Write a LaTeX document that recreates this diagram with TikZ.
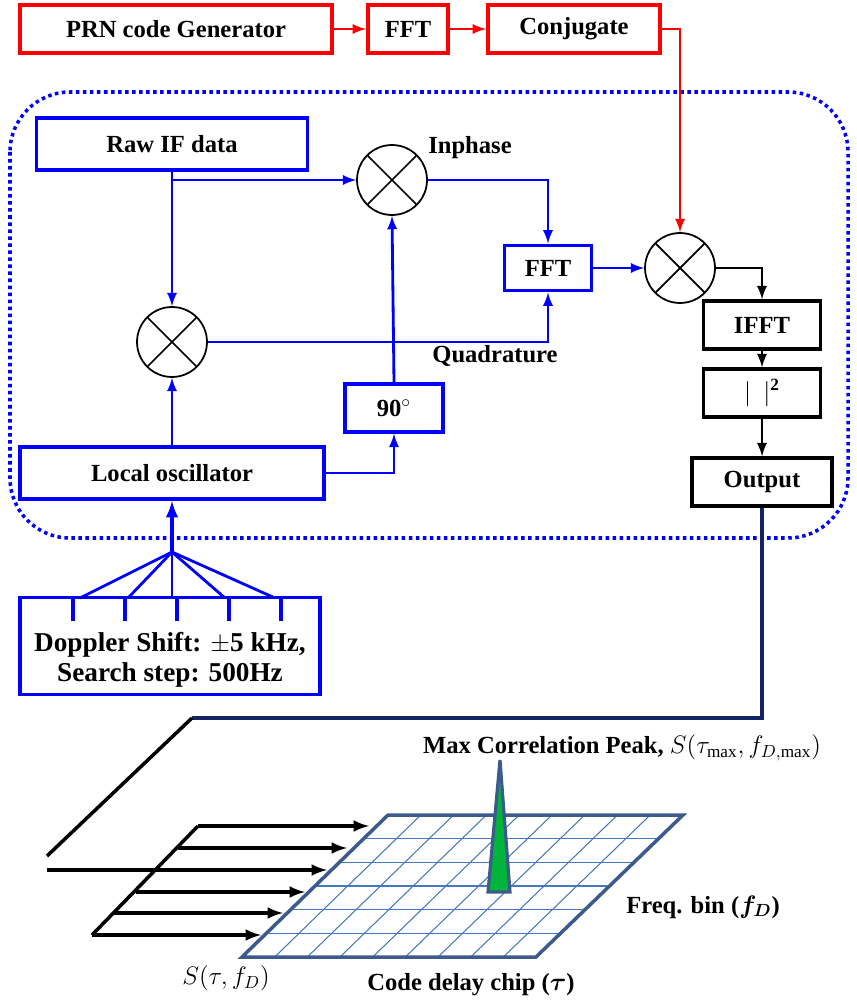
\documentclass[tikz,border=0pt]{standalone}
\usepackage{fontspec}
\setmainfont{Liberation Serif}
\usepackage{amsmath}
\usepackage{tikz}
\usetikzlibrary{arrows,calc}
\definecolor{navy}{RGB}{20,35,100}
\definecolor{gridblue}{RGB}{70,120,190}
\definecolor{edgeblue}{RGB}{60,90,140}
\definecolor{peakgreen}{RGB}{0,180,60}

\begin{document}
\begin{tikzpicture}[x=0.02cm,y=-0.02cm,>=latex,font=\fontsize{14}{16}\selectfont\bfseries]
    \tikzstyle{block}=[draw,line width=2.2pt,inner sep=0pt,minimum height=0.95cm]
    \tikzstyle{red block}=[block,draw=red]
    \tikzstyle{blue block}=[block,draw=blue]
    \tikzstyle{black block}=[block,draw=black]
    \tikzstyle{mixer}=[circle,draw,line width=1pt,minimum size=1.4cm,inner sep=0pt,
        path picture={\draw[line width=1pt] (path picture bounding box.north west)--(path picture bounding box.south east)
        (path picture bounding box.north east)--(path picture bounding box.south west);}]
    \tikzstyle{red line}=[draw=red,line width=1.6pt,->]
    \tikzstyle{blue line}=[draw=blue,line width=1.6pt,->]
    \tikzstyle{black line}=[draw=black,line width=1.6pt,->]
    \useasboundingbox (0,0) rectangle (857,1000);

    % Top chain
    \node[red block,minimum width=6.24cm] (prn) at (176,29) {PRN code Generator};
    \node[red block,minimum width=1.6cm] (fft0) at (408,29) {FFT};
    \node[red block,minimum width=3.44cm] (conj) at (574,29) {Conjugate};

    % Dotted frame
    \draw[blue,line width=2pt,dotted,rounded corners=1.2cm] (10,92) rectangle (848,538);

    % Blocks inside the frame
    \node[blue block,minimum width=5.42cm,minimum height=1.04cm] (raw) at (172,144) {Raw IF data};
    \node[mixer] (mixI) at (392,180) {};
    \node[mixer] (mixQ) at (172,342) {};
    \node[blue block,minimum width=1.74cm,minimum height=0.9cm] (fft1) at (548,268) {FFT};
    \node[blue block,minimum width=1.96cm] (shift) at (394,408) {90$^{\circ}$};
    \node[blue block,minimum width=6.08cm,minimum height=1.04cm] (lo) at (172,473) {Local oscillator};
    \node[mixer] (mixR) at (680,268) {};
    \node[black block,minimum width=2.34cm] (ifft) at (762,325) {IFFT};
    \node[black block,minimum width=2.34cm] (abs) at (762,393) {$|\ \ |^{\mathbf{2}}$};
    \node[black block,minimum width=2.8cm] (out) at (762,482) {Output};
    \node (inph) at (470,148) {Inphase};
    \node (quad) at (495,356) {Quadrature};

    % Doppler search box
    \node[blue block,minimum width=6cm,minimum height=1.94cm] (dop) at (170,646) {};
    \node[align=center,font=\fontsize{15.5}{17}\selectfont\bfseries] at (170,660) {Doppler Shift: $\pm$5 kHz,\\Search step: 500Hz};
    \coordinate (fan) at (172,552);
    \foreach \x/\t in {73/80,125/128,177/172,229/225,281/275} {
        \draw[blue,line width=2pt] (\x,598) -- (\x,621);
        \draw[blue,line width=1.6pt] (fan) -- (\t,598);
    }

    % Connections
    \draw[red line] (conj.east) -| (mixR.north);
    \draw[red line] (prn) -- (fft0);
    \draw[red line] (fft0) -- (conj);
    \coordinate (split) at (raw.south |- mixI.west);
    \draw[blue line] (raw.south) -- (mixQ.north);
    \draw[blue line] (split) -- (mixI.west);
    \draw[blue line] (mixI.east) -| (fft1.north);
    \draw[blue line] (mixQ.east) -| (fft1.south);
    \draw[blue line] (lo.north) -- (mixQ.south);
    \draw[blue line] (lo.east) -| (shift.south);
    \draw[blue line] (shift.north) -- (mixI.south);
    \draw[blue line] (fft1.east) -- (mixR.west);
    \draw[blue line,line width=2.2pt] (fan) -- (lo.south);
    \draw[black line] (mixR.east) -| (ifft.north);
    \draw[black line] (ifft) -- (abs);
    \draw[black line] (abs) -- (out);

    % Output to the search grid
    \coordinate (turn) at (192,718);
    \draw[navy,line width=1.8pt] (out.south) |- (turn);
    \draw[line width=2pt] (turn) -- (47,856);
    \draw[line width=2pt] (92,935) -- (198,826);
    \foreach \xs/\xe/\y in {198/369/826,178/347/848,47/327/870,136/305/892,114/283/913,92/261/935}
        \draw[line width=2pt,-{latex[scale=1.3]}] (\xs,\y) -- (\xe,\y);

    % Search grid
    \coordinate (g1) at (388,815);
    \coordinate (g2) at (683,815);
    \coordinate (g3) at (536,957);
    \coordinate (g4) at (242,957);
    \foreach \i in {1,...,5}
        \draw[gridblue,line width=0.6pt] ($(g1)!\i/6!(g4)$) -- ($(g2)!\i/6!(g3)$);
    \foreach \i in {1,...,8}
        \draw[gridblue,line width=0.6pt] ($(g1)!\i/9!(g2)$) -- ($(g4)!\i/9!(g3)$);
    \draw[edgeblue,line width=2pt] (g1) -- (g2) -- (g3) -- (g4) -- cycle;

    % Correlation peak
    \filldraw[draw=edgeblue,fill=peakgreen,line width=1.8pt] (500,760) -- (510,892) -- (488,892) -- cycle;

    % Labels
    \node (peak) at (622,748) {Max Correlation Peak, $S(\tau_{\max},f_{D,\max})$};
    \node (fbin) at (703,907) {Freq. bin ($\boldsymbol{f_D}$)};
    \node (cdel) at (471,985) {Code delay chip ($\boldsymbol{\tau}$)};
    \node[font=\fontsize{14}{16}\selectfont] (stf) at (226,978) {$S(\tau,f_D)$};
\end{tikzpicture}
\end{document}
